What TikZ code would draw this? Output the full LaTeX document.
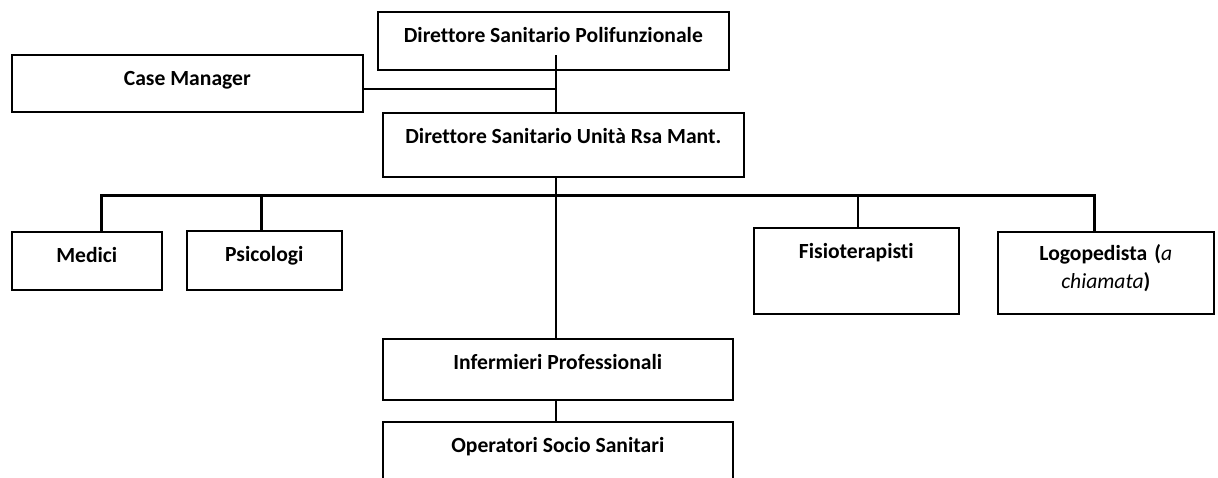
\documentclass[tikz,border=0pt]{standalone}
\usepackage{fontspec}
\setmainfont{Carlito}[Ligatures=NoCommon]
\usepackage{tikz}

\tikzset{
  orgbox/.style={draw, line width=0.8pt, anchor=north west, inner xsep=0pt,
    inner ysep=0pt, text height=15.5pt, align=center,
    font=\fontsize{10.8}{14}\selectfont\bfseries},
  link/.style={line width=0.8pt},
  buslink/.style={line width=1.5pt},
}

\begin{document}
\begin{tikzpicture}[x=0.5pt, y=-0.5pt]
    % page frame, in pixels of the original chart
    \useasboundingbox (0,0) rectangle (1218,477);

    % management
    \node[orgbox, minimum width=175.5pt, text depth=13.5pt] (dsp) at (377,11) {Direttore Sanitario Polifunzionale};
    \node[orgbox, minimum width=175.5pt, text depth=13pt]   (cm)  at (11,54)  {Case Manager};
    \node[orgbox, minimum width=180.5pt, text depth=16.5pt] (dsu) at (382,112) {Direttore Sanitario Unità Rsa Mant.};

    % staff row
    \node[orgbox, minimum width=75pt,   text depth=13.5pt] (med)  at (11,231)  {Medici};
    \node[orgbox, minimum width=77.5pt, text depth=14pt]   (psi)  at (186,230) {Psicologi};
    \node[orgbox, minimum width=102.5pt, text depth=27.5pt] (fis) at (753,227) {Fisioterapisti};
    \node[orgbox, text width=108pt, text height=14.5pt, text depth=26.5pt] (logo) at (997,231)
         {Logopedista (\textit{\mdseries a}\\\textit{\mdseries chiamata})};

    % nursing line
    \node[orgbox, minimum width=175pt, text depth=15pt]   (inf) at (382,338) {Infermieri Professionali};
    \node[orgbox, minimum width=175pt, text depth=19.5pt] (ope) at (382,421) {Operatori Socio Sanitari};

    % trunk and bus points
    \coordinate (trunk) at (556,55);
    \coordinate (bm) at (101,195);
    \coordinate (bp) at (261,195);
    \coordinate (bf) at (858,195);
    \coordinate (bl) at (1094,195);

    \begin{scope}
    % vertical trunk
    \draw[link] (trunk) -- (trunk |- dsu.north);
    \draw[link] (trunk |- dsu.south) -- (trunk |- inf.north);
    \draw[link] (trunk |- inf.south) -- (trunk |- ope.north);

    % case manager joins the trunk
    \draw[line width=1.2pt] ([yshift=-2.75pt]cm.east) -- ([yshift=-2.75pt]cm.east -| trunk);

    % bus to the staff row
    \draw[buslink] (bm |- med.north) -- (bm) -- (bl) -- (bl |- logo.north);
    \draw[buslink] (bp) -- (bp |- psi.north);
    \draw[line width=1pt] (bf) -- (bf |- fis.north);
    \end{scope}
\end{tikzpicture}
\end{document}
